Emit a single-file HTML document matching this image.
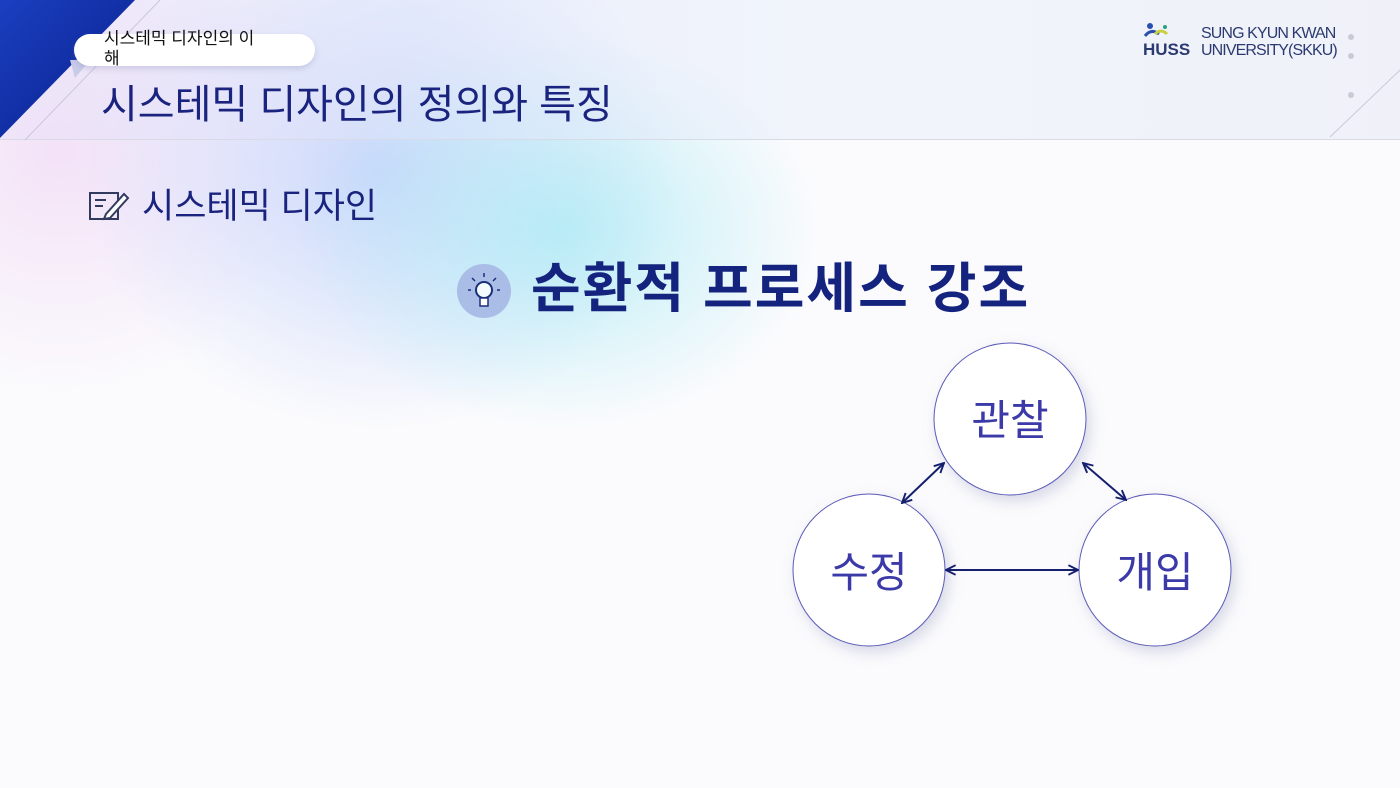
<!DOCTYPE html>
<html><head><meta charset="utf-8"><style>
*{margin:0;padding:0;box-sizing:border-box}
body{width:1400px;height:788px;overflow:hidden;position:relative;background:#fbfbfd;font-family:"Liberation Sans","Noto Sans CJK KR",sans-serif}
.abs{position:absolute}
</style></head><body>
<div class="abs" style="left:0;top:0;width:1400px;height:788px;background:
radial-gradient(ellipse 260px 200px at 560px 230px, rgba(175,235,245,.85), rgba(175,235,245,0) 100%),
radial-gradient(ellipse 300px 260px at 380px 170px, rgba(190,205,250,.8), rgba(190,205,250,0) 100%),
radial-gradient(ellipse 250px 250px at 60px 150px, rgba(240,215,245,.7), rgba(240,215,245,0) 100%),
linear-gradient(#fbfbfd,#fbfbfd)"></div>
<div class="abs" style="left:0;top:0;width:1400px;height:140px;background:linear-gradient(90deg,rgba(235,225,248,.6),rgba(220,228,250,.5) 30%,rgba(235,240,250,.6) 60%,rgba(238,240,248,.9));border-bottom:1px solid #d8dae6"></div>
<svg class="abs" style="left:0;top:0" width="1400" height="788">
<defs><linearGradient id="bl" x1="0" y1="0" x2="1" y2="1"><stop offset="0" stop-color="#1a3fc0"/><stop offset="1" stop-color="#0a1f8a"/></linearGradient></defs>
<polygon points="0,0 135,0 0,138" fill="url(#bl)"/>
<line x1="160" y1="0" x2="25" y2="140" stroke="#c8c8dc" stroke-width="1"/>
<line x1="1400" y1="70" x2="1330" y2="137" stroke="#c8cad8" stroke-width="1"/>
<circle cx="1351" cy="37" r="3" fill="#c8cad6"/><circle cx="1351" cy="56" r="3" fill="#c8cad6"/><circle cx="1351" cy="95" r="3" fill="#c8cad6"/>
<polygon points="70,60 90,60 75,78" fill="#c9cbea"/>
</svg>
<div class="abs" style="left:74px;top:34px;width:241px;height:32px;background:#fff;border-radius:16px;box-shadow:0 3px 6px rgba(120,120,170,.25)"></div>
<div class="abs" style="left:104px;top:29px;width:190px;font-size:17px;line-height:20px;color:#111">시스테믹 디자인의 이<br>해</div>
<div class="abs" style="left:101px;top:80px;font-size:40px;color:#1a237e;line-height:50px">시스테믹 디자인의 정의와 특징</div>
<div class="abs" style="left:1143px;top:22px;width:20px;height:18px">
<svg width="48" height="20"><circle cx="7" cy="4" r="3" fill="#2a4fb0"/><path d="M2 14 Q8 6 16 12" stroke="#2a4fb0" stroke-width="3" fill="none"/><path d="M12 12 Q18 6 24 12" stroke="#c8d040" stroke-width="3" fill="none"/><circle cx="22" cy="5" r="2" fill="#2a9f80"/></svg></div>
<div class="abs" style="left:1143px;top:40px;font-size:17px;font-weight:bold;color:#2b3a70">HUSS</div>
<div class="abs" style="left:1201px;top:25px;font-size:16px;line-height:17px;color:#2b3a70;letter-spacing:-0.9px">SUNG KYUN KWAN<br>UNIVERSITY(SKKU)</div>
<svg class="abs" style="left:88px;top:190px" width="42" height="32"><rect x="2" y="3" width="28" height="26" fill="none" stroke="#333a60" stroke-width="2"/><line x1="7" y1="10" x2="18" y2="10" stroke="#333a60" stroke-width="2"/><line x1="7" y1="16" x2="15" y2="16" stroke="#333a60" stroke-width="2"/><path d="M18 24 L36 4 L40 8 L22 28 L16 29 Z" fill="#fff" stroke="#333a60" stroke-width="2"/></svg>
<div class="abs" style="left:142px;top:185px;font-size:35px;color:#1a237e;line-height:44px">시스테믹 디자인</div>
<svg class="abs" style="left:456px;top:263px" width="56" height="56"><circle cx="28" cy="28" r="27" fill="#a9bde6"/><circle cx="28" cy="27" r="8" fill="#f4fbff" stroke="#1a2f7a" stroke-width="2"/><rect x="24" y="35" width="8" height="8" fill="#fff" stroke="#1a2f7a" stroke-width="1.5"/><g stroke="#1a2f7a" stroke-width="1.5"><line x1="28" y1="10" x2="28" y2="14"/><line x1="16" y1="15" x2="19" y2="18"/><line x1="40" y1="15" x2="37" y2="18"/><line x1="12" y1="27" x2="15" y2="27"/><line x1="44" y1="27" x2="41" y2="27"/></g></svg>
<div class="abs" style="left:531px;top:254px;font-size:54px;font-weight:bold;color:#13237e;line-height:70px;letter-spacing:2px">순환적 프로세스 강조</div>
<svg class="abs" style="left:0;top:0" width="1400" height="788">
<defs><filter id="sh" x="-30%" y="-30%" width="160%" height="160%"><feDropShadow dx="4" dy="6" stdDeviation="7" flood-color="#8088b0" flood-opacity=".3"/></filter>
<marker id="a" viewBox="0 0 10 10" refX="9" refY="5" markerWidth="12" markerHeight="12" orient="auto-start-reverse" markerUnits="userSpaceOnUse"><path d="M1 1 L9 5 L1 9" fill="none" stroke="#14206e" stroke-width="1.6"/></marker></defs>
<g fill="#fff" stroke="#5a5ab8" stroke-width="1" filter="url(#sh)">
<circle cx="1010" cy="419" r="76"/><circle cx="869" cy="570" r="76"/><circle cx="1155" cy="570" r="76"/></g>
<g stroke="#14206e" stroke-width="2" marker-start="url(#a)" marker-end="url(#a)">
<line x1="902" y1="503" x2="944" y2="463"/><line x1="1083" y1="463" x2="1126" y2="500"/><line x1="946" y1="570" x2="1078" y2="570"/></g>
<g font-family="Liberation Sans,Noto Sans CJK KR,sans-serif" font-size="42" fill="#3b3aa8" text-anchor="middle">
<text x="1010" y="435">관찰</text><text x="869" y="587">수정</text><text x="1155" y="587">개입</text></g>
</svg>
</body></html>
